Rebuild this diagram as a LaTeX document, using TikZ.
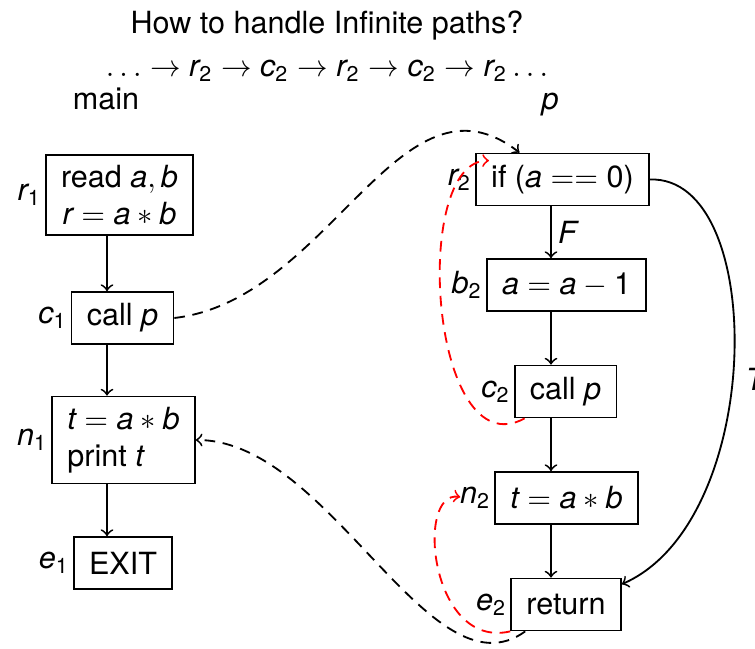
\documentclass[tikz,border=0pt]{standalone}
\usepackage{mathspec}
\setmainfont{TeX Gyre Heros}
\setmathsfont(Digits,Latin){TeX Gyre Heros}
\usetikzlibrary{calc}

\begin{document}
\begin{tikzpicture}[x=0.0115cm,y=-0.0115cm,
  blk/.style={draw,semithick,inner xsep=5pt,inner ysep=3.5pt,minimum height=17pt},
  lbl/.style={label={[label distance=0pt,inner sep=1pt]left:#1}},
  arr/.style={->,semithick},
  back/.style={->,semithick,dash pattern=on 3.5pt off 2.5pt},
  loopback/.style={->,semithick,red,dash pattern=on 3.5pt off 2.5pt}]
  \useasboundingbox (0,0) rectangle (755,649);

  % headings
  \node[anchor=base] (title) at (327,34) {How to handle Infinite paths?};
  \node[anchor=base] (trace) at (327,77)
    {$\dots\rightarrow r_2\rightarrow c_2\rightarrow r_2\rightarrow c_2\rightarrow r_2\dots$};
  \node[anchor=base] (mainname) at (106,110) {main};
  \node[anchor=base] (pname) at (550,110) {$p$};

  %% main
  \coordinate (mcol) at (107,0);
  \node[blk,align=center,lbl=$r_1$] (r1) at (119.5,195) {read $a,b$\\$r=a\ast b$};
  \node[blk,lbl=$c_1$] (c1) at (122.5,318) {call $p$};
  \node[blk,align=left,lbl=$n_1$] (n1) at (123.5,440) {$t=a\ast b$\\print $t$};
  \node[blk,lbl=$e_1$] (e1) at (123,563) {EXIT};
  \draw[arr] (r1.south -| mcol) -- (c1.north -| mcol);
  \draw[arr] (c1.south -| mcol) -- (n1.north -| mcol);
  \draw[arr] (n1.south -| mcol) -- (e1.north -| mcol);

  %% procedure p
  \coordinate (pcol) at (551,0);
  \node[blk,lbl=$r_2$] (r2) at (562.5,179.5) {if ($a==0$)};
  \node[blk,lbl=$b_2$] (b2) at (566.5,285) {$a=a-1$};
  \node[blk,lbl=$c_2$] (c2) at (565.5,391.5) {call $p$};
  \node[blk,lbl=$n_2$] (n2) at (566.5,498) {$t=a\ast b$};
  \node[blk,lbl=$e_2$] (e2) at (566,604.5) {return};
  \draw[arr] (r2.south -| pcol) -- node[right,inner sep=2pt]{$F$} (b2.north -| pcol);
  \draw[arr] (b2.south -| pcol) -- (c2.north -| pcol);
  \draw[arr] (c2.south -| pcol) -- (n2.north -| pcol);
  \draw[arr] (n2.south -| pcol) -- (e2.north -| pcol);
  \draw[arr] (r2.east) .. controls +(118,-4) and +(144,-63) .. (e2.20)
    node[pos=0.54,right,inner sep=4pt]{$T$};

  % call and return edges
  \draw[back] (c1.east) .. controls (330,300) and (400,60) .. (r2.148);
  \draw[back] ($(e2.south west)+(15,0)$) .. controls (430,700) and (330,440) .. (n1.east);

  % infinite recursion
  \draw[loopback] ($(c2.south west)+(11,0)$) .. controls (430,470) and (410,160) .. ($(r2.north west)+(14,8)$);
  \draw[loopback] (e2.south west) .. controls (430,650) and (415,490) .. ($(n2.west)+(-34,-1)$);
\end{tikzpicture}
\end{document}
